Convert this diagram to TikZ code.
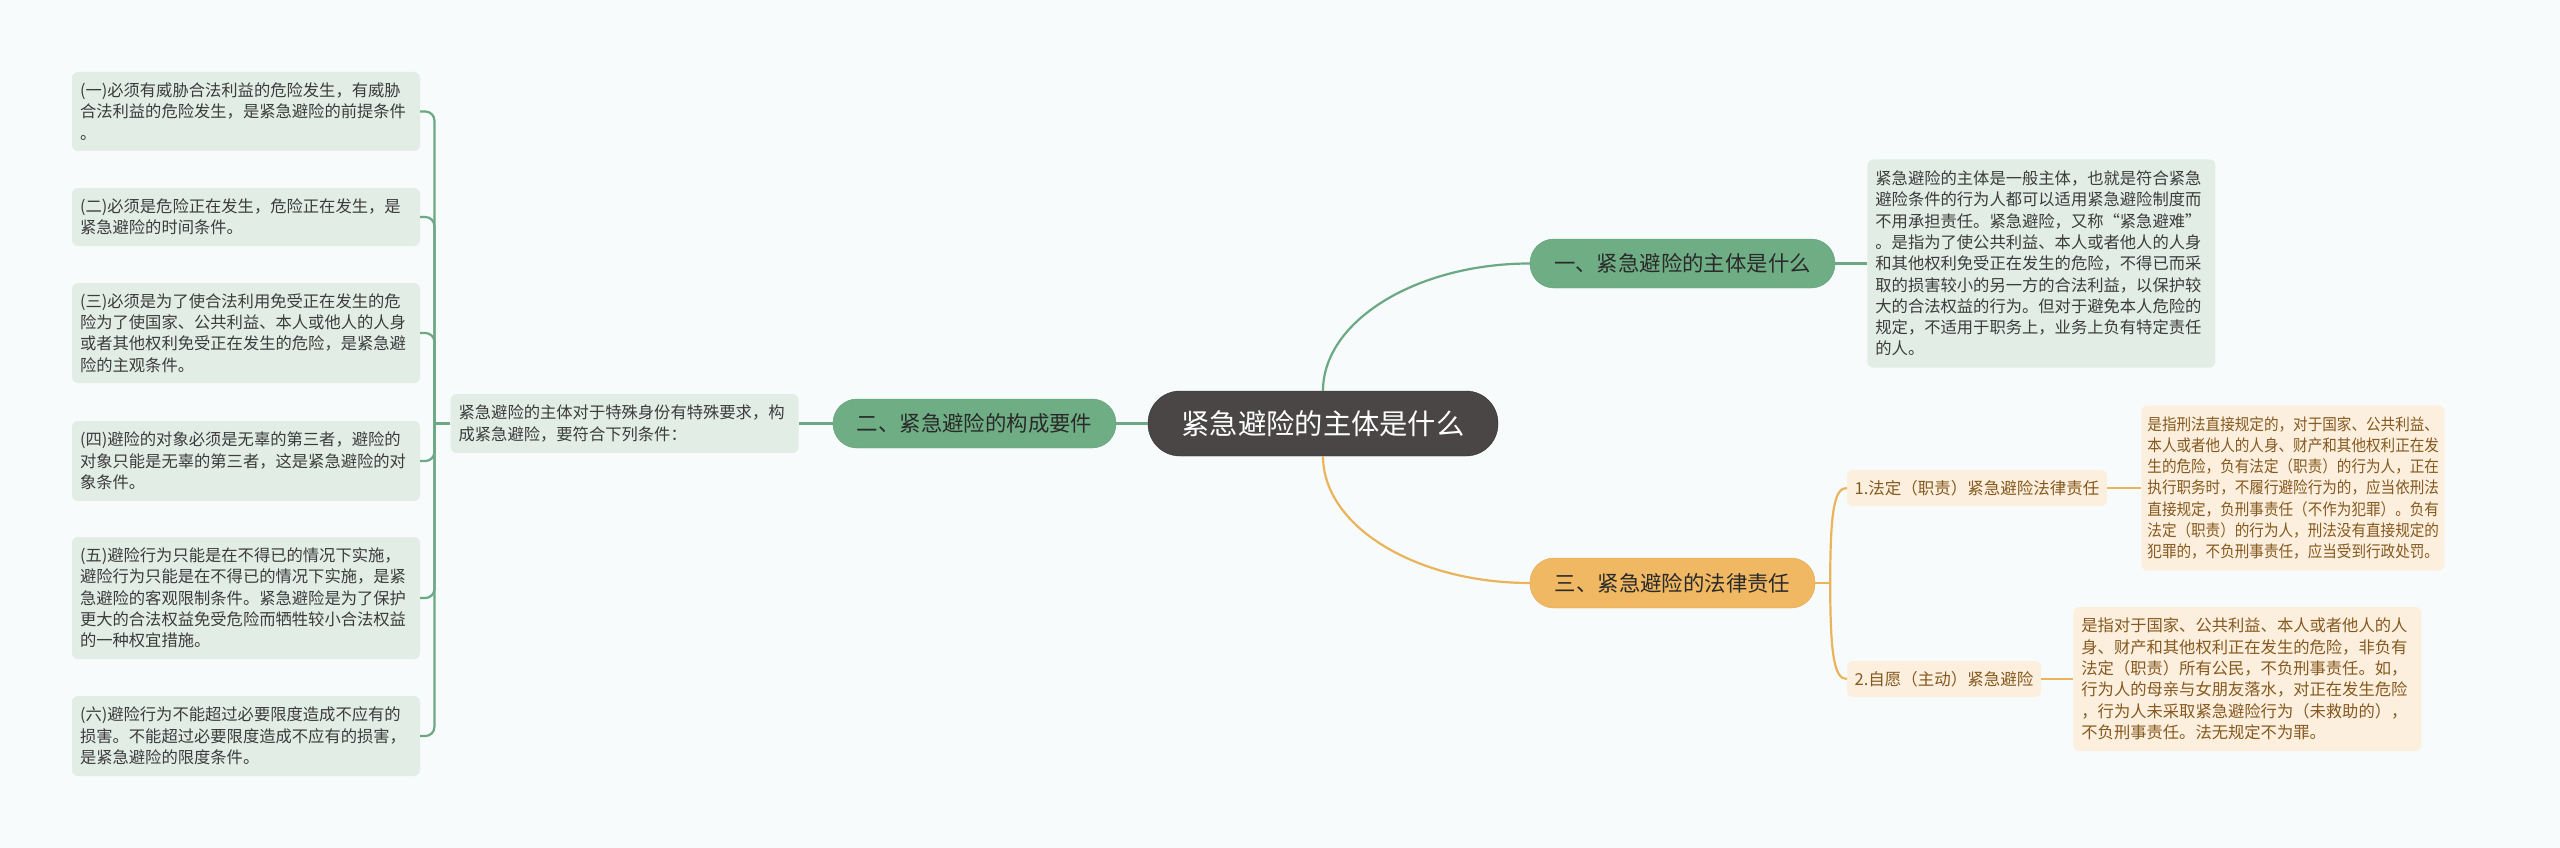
\documentclass[tikz,border=0pt]{standalone}
\usepackage{fontspec}
\setmainfont{Noto Sans CJK SC}
\newfontfamily\cjknarrow[FakeStretch=0.9]{Noto Sans CJK SC}
\usetikzlibrary{positioning}
\definecolor{bgc}{HTML}{F7FBFB}
\definecolor{rootc}{HTML}{4A4646}
\definecolor{greenc}{HTML}{6FAE85}
\definecolor{greenb}{HTML}{5F9F76}
\definecolor{orangec}{HTML}{F0B862}
\definecolor{orangeb}{HTML}{E2A850}
\definecolor{lineg}{HTML}{6BA883}
\definecolor{lineo}{HTML}{E9B45C}
\definecolor{leafgc}{HTML}{E2EDE6}
\definecolor{leafoc}{HTML}{FCEFDE}
\definecolor{titlec}{HTML}{2A2A2A}
\definecolor{leafgt}{HTML}{3C3C3C}
\definecolor{leafot}{HTML}{85591F}
\tikzset{
  rootnode/.style={draw=rootc!70!black, fill=rootc, text=white, rounded corners=32pt,
    minimum width=350pt, minimum height=65pt, inner sep=0pt,
    font=\fontsize{28.3}{32}\selectfont},
  topicg/.style={draw=greenb, fill=greenc, text=titlec, rounded corners=24pt,
    minimum height=49pt, inner sep=0pt, font=\fontsize{21.4}{25}\selectfont},
  topico/.style={draw=orangeb, fill=orangec, text=titlec, rounded corners=24pt,
    minimum height=50pt, inner sep=0pt, font=\fontsize{21.4}{25}\selectfont},
  leafg/.style={fill=leafgc, text=leafgt, rounded corners=6pt, text width=332pt,
    inner xsep=8pt, inner ysep=0pt, align=left, font=\fontsize{16.3}{21.3}\selectfont},
  leafo/.style={leafg, fill=leafoc, text=leafot},
  subo/.style={fill=leafoc, text=leafot, rounded corners=6pt, minimum height=36pt,
    inner sep=0pt, font=\fontsize{16.5}{20}\selectfont},
  linkg/.style={draw=lineg, line width=2.2pt},
  linko/.style={draw=lineo, line width=2.2pt}
}
\begin{document}
\begin{tikzpicture}[x=1pt, y=-1pt, node distance=33pt]
    \path[fill=bgc, use as bounding box] (0,0) rectangle (2560,848);

    \node[rootnode] (root) at (1323,423.5) {紧急避险的主体是什么};
    \node[topicg, minimum width=305pt] (n1) at (1682.5,263.5) {一、紧急避险的主体是什么};
    \node[topicg, minimum width=283pt] (n2) at (974.5,423.5) {二、紧急避险的构成要件};
    \node[topico, minimum width=285pt] (n3) at (1672.5,583) {三、紧急避险的法律责任};

    \node[leafg, minimum height=208pt, right=32pt of n1] (t1) {紧急避险的主体是一般主体，也就是符合紧急\\
      避险条件的行为人都可以适用紧急避险制度而\\
      不用承担责任。紧急避险，又称“紧急避难”\\
      。是指为了使公共利益、本人或者他人的人身\\
      和其他权利免受正在发生的危险，不得已而采\\
      取的损害较小的另一方的合法利益，以保护较\\
      大的合法权益的行为。但对于避免本人危险的\\
      规定，不适用于职务上，业务上负有特定责任\\
      的人。};
    \node[leafg, minimum height=59pt, left=34pt of n2] (t2) {紧急避险的主体对于特殊身份有特殊要求，构\\
      成紧急避险，要符合下列条件：};

    \node[leafg, minimum height=79pt] (b1) at (246,111.5) {(一)必须有威胁合法利益的危险发生，有威胁\\
      合法利益的危险发生，是紧急避险的前提条件\\
      。};
    \node[leafg, minimum height=58pt] (b2) at (246,217) {(二)必须是危险正在发生，危险正在发生，是\\
      紧急避险的时间条件。};
    \node[leafg, minimum height=100pt] (b3) at (246,333) {(三)必须是为了使合法利用免受正在发生的危\\
      险为了使国家、公共利益、本人或他人的人身\\
      或者其他权利免受正在发生的危险，是紧急避\\
      险的主观条件。};
    \node[leafg, minimum height=80pt] (b4) at (246,461) {(四)避险的对象必须是无辜的第三者，避险的\\
      对象只能是无辜的第三者，这是紧急避险的对\\
      象条件。};
    \node[leafg, minimum height=122pt] (b5) at (246,598) {(五)避险行为只能是在不得已的情况下实施，\\
      避险行为只能是在不得已的情况下实施，是紧\\
      急避险的客观限制条件。紧急避险是为了保护\\
      更大的合法权益免受危险而牺牲较小合法权益\\
      的一种权宜措施。};
    \node[leafg, minimum height=80pt] (b6) at (246,736) {(六)避险行为不能超过必要限度造成不应有的\\
      损害。不能超过必要限度造成不应有的损害，\\
      是紧急避险的限度条件。};

    \node[subo, minimum width=260pt] (c1) at (1977,488) {1.法定（职责）紧急避险法律责任};
    \node[subo, minimum width=194pt] (c2) at (1944,679) {2.自愿（主动）紧急避险};
    \node[leafo, minimum height=165pt, text width=291pt, inner xsep=6pt,
      font=\cjknarrow\fontsize{16.2}{21.3}\selectfont, right=34pt of c1] (o1) {是指刑法直接规定的，对于国家、公共利益、\\
      本人或者他人的人身、财产和其他权利正在发\\
      生的危险，负有法定（职责）的行为人，正在\\
      执行职务时，不履行避险行为的，应当依刑法\\
      直接规定，负刑事责任（不作为犯罪）。负有\\
      法定（职责）的行为人，刑法没有直接规定的\\
      犯罪的，不负刑事责任，应当受到行政处罚。};
    \node[leafo, minimum height=144pt, right=32pt of c2] (o2) {是指对于国家、公共利益、本人或者他人的人\\
      身、财产和其他权利正在发生的危险，非负有\\
      法定（职责）所有公民，不负刑事责任。如，\\
      行为人的母亲与女朋友落水，对正在发生危险\\
      ，行为人未采取紧急避险行为（未救助的），\\
      不负刑事责任。法无规定不为罪。};

    \coordinate[left=16pt of t2] (lj);
    \coordinate[right=15pt of n3] (rj);

    \draw[linkg] (root.north) .. controls +(0,-70) and +(-113,0) .. (n1.west);
    \draw[linko] (root.south) .. controls +(0,70) and +(-114,0) .. (n3.west);
    \draw[linkg] (root.west) -- (n2.east);
    \draw[linkg] (n1.east) -- (t1.west);
    \draw[linkg] (n2.west) -- (t2.east);
    \draw[linkg] (t2.west) -- (lj);
    \foreach \b in {b1,b2,b3,b4,b5,b6}
      \draw[linkg, rounded corners=9pt] (lj) |- (\b.east);
    \draw[linko] (n3.east) -- (rj);
    \draw[linko] (rj) .. controls +(0,-75) and +(-12,0) .. (c1.west);
    \draw[linko] (rj) .. controls +(0,75) and +(-12,0) .. (c2.west);
    \draw[linko] (c1.east) -- (o1.west);
    \draw[linko] (c2.east) -- (o2.west);
\end{tikzpicture}
\end{document}
